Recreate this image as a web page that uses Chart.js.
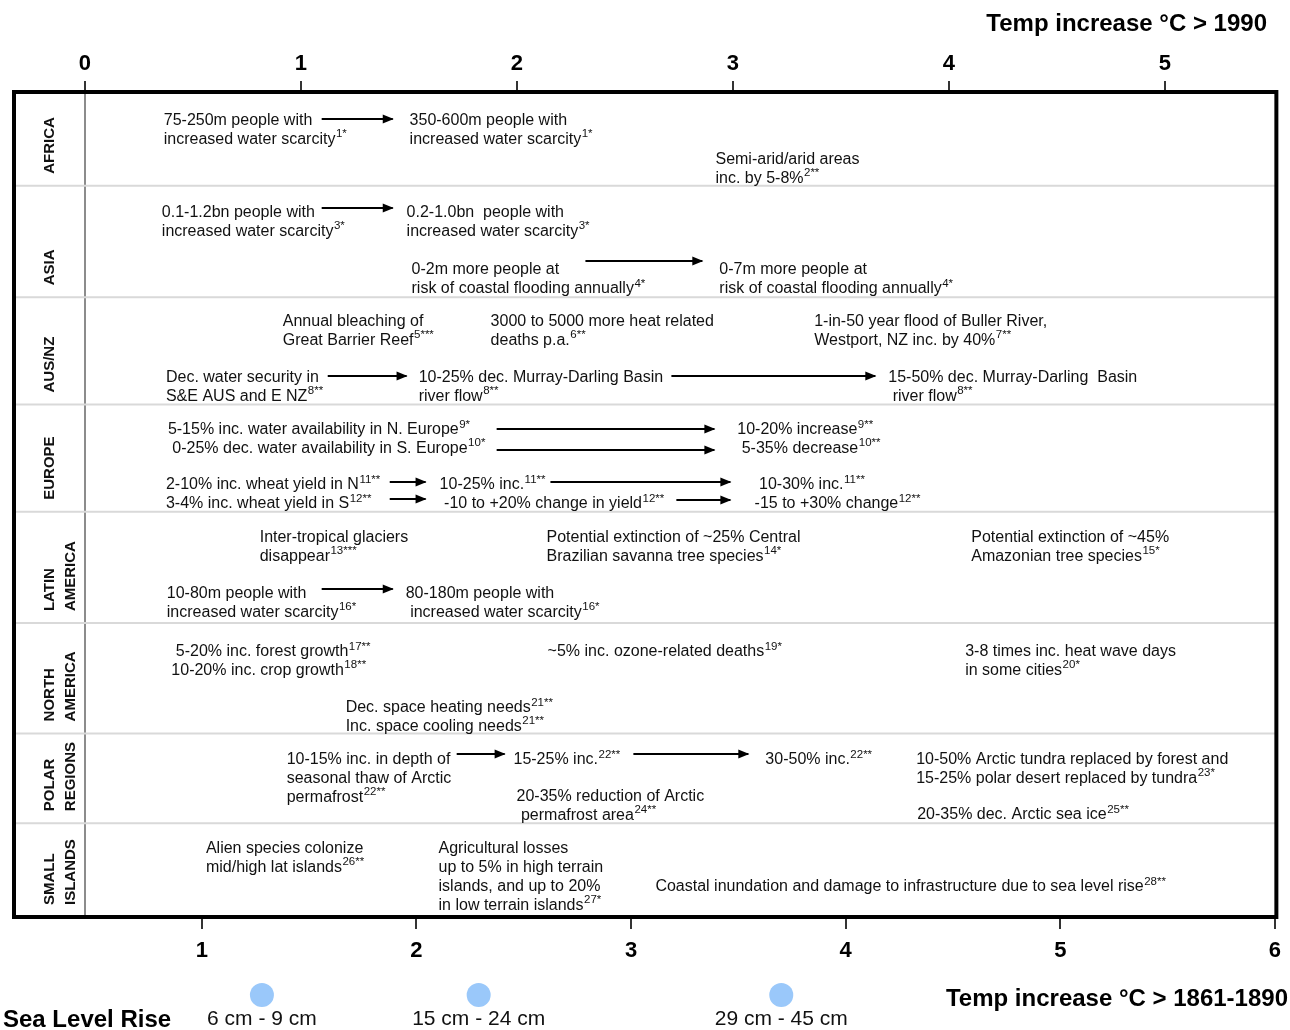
<!DOCTYPE html>
<html>
<head>
<meta charset="utf-8">
<script src="https://cdn.jsdelivr.net/npm/chart.js@4.4.1/dist/chart.umd.min.js"></script>
<style>
  html, body { margin: 0; padding: 0; background: #fff; }
  #wrap { width: 1290px; height: 1030px; position: relative; }
</style>
</head>
<body>
<div id="wrap"><canvas id="impacts"></canvas></div>
<script>
const topTicks = [0, 1, 2, 3, 4, 5]
const bottomTicks = [1, 2, 3, 4, 5, 6]
const regions = [['AFRICA'], ['ASIA'], ['AUS/NZ'], ['EUROPE'], ['LATIN', 'AMERICA'], ['NORTH', 'AMERICA'], ['POLAR', 'REGIONS'], ['SMALL', 'ISLANDS']]
const regionEdges = [0, 0.91, 1.99, 3.03, 4.07, 5.15, 6.22, 7.09, 8]

const seaLevelTemps = [1.28, 2.29, 3.70]
const seaLevelRise = ['6 cm - 9 cm', '15 cm - 24 cm', '29 cm - 45 cm']

// [temp °C > 1990, row position, lines]  text after ^ is the footnote mark
const africa = [
  [0.365, 0.262, ['75-250m people with', 'increased water scarcity^1*']],
  [1.503, 0.262, ['350-600m people with', 'increased water scarcity^1*']],
  [2.919, 0.640, ['Semi-arid/arid areas', 'inc. by 5-8%^2**']]
]
const asia = [
  [0.356, 1.154, ['0.1-1.2bn people with', 'increased water scarcity^3*']],
  [1.489, 1.154, ['0.2-1.0bn  people with', 'increased water scarcity^3*']],
  [1.512, 1.707, ['0-2m more people at', 'risk of coastal flooding annually^4*']],
  [2.937, 1.707, ['0-7m more people at', 'risk of coastal flooding annually^4*']]
]
const ausNz = [
  [0.916, 2.211, ['Annual bleaching of', 'Great Barrier Reef^5***']],
  [1.878, 2.211, ['3000 to 5000 more heat related', 'deaths p.a.^6**']],
  [3.376, 2.211, ['1-in-50 year flood of Buller River,', 'Westport, NZ inc. by 40%^7**']],
  [0.375, 2.754, ['Dec. water security in', 'S&E AUS and E NZ^8**']],
  [1.545, 2.754, ['10-25% dec. Murray-Darling Basin', 'river flow^8**']],
  [3.719, 2.754, ['15-50% dec. Murray-Darling  Basin', ' river flow^8**']]
]
const europe = [
  [0.384, 3.258, ['5-15% inc. water availability in N. Europe^9*', ' 0-25% dec. water availability in S. Europe^10*']],
  [3.020, 3.258, ['10-20% increase^9**', ' 5-35% decrease^10**']],
  [0.375, 3.792, ['2-10% inc. wheat yield in N^11**', '3-4% inc. wheat yield in S^12**']],
  [1.642, 3.792, ['10-25% inc.^11**', ' -10 to +20% change in yield^12**']],
  [3.100, 3.792, [' 10-30% inc.^11**', '-15 to +30% change^12**']]
]
const latinAmerica = [
  [0.809, 4.305, ['Inter-tropical glaciers', 'disappear^13***']],
  [2.137, 4.305, ['Potential extinction of ~25% Central', 'Brazilian savanna tree species^14*']],
  [4.103, 4.305, ['Potential extinction of ~45%', 'Amazonian tree species^15*']],
  [0.379, 4.848, ['10-80m people with', 'increased water scarcity^16*']],
  [1.485, 4.848, ['80-180m people with', ' increased water scarcity^16*']]
]
const northAmerica = [
  [0.400, 5.411, [' 5-20% inc. forest growth^17**', '10-20% inc. crop growth^18**']],
  [2.142, 5.411, ['~5% inc. ozone-related deaths^19*']],
  [4.075, 5.411, ['3-8 times inc. heat wave days', 'in some cities^20*']],
  [1.207, 5.954, ['Dec. space heating needs^21**', 'Inc. space cooling needs^21**']]
]
const polar = [
  [0.934, 6.458, ['10-15% inc. in depth of', 'seasonal thaw of Arctic', 'permafrost^22**']],
  [1.984, 6.458, ['15-25% inc.^22**']],
  [3.150, 6.458, ['30-50% inc.^22**']],
  [3.848, 6.458, ['10-50% Arctic tundra replaced by forest and', '15-25% polar desert replaced by tundra^23*']],
  [1.998, 6.817, ['20-35% reduction of Arctic', ' permafrost area^24**']],
  [3.853, 6.992, ['20-35% dec. Arctic sea ice^25**']]
]
const smallIslands = [
  [0.560, 7.321, ['Alien species colonize', 'mid/high lat islands^26**']],
  [1.637, 7.321, ['Agricultural losses', 'up to 5% in high terrain', 'islands, and up to 20%', 'in low terrain islands^27*']],
  [2.641, 7.690, ['Coastal inundation and damage to infrastructure due to sea level rise^28**']]
]

// [from °C, to °C, row position]
const arrows = [
  [1.096, 1.425, 0.262],
  [1.096, 1.425, 1.125],
  [2.317, 2.858, 1.639],
  [1.124, 1.489, 2.754],
  [2.715, 3.659, 2.754],
  [1.906, 2.914, 3.268],
  [1.906, 2.914, 3.472],
  [1.411, 1.577, 3.782],
  [1.411, 1.577, 3.947],
  [2.155, 2.988, 3.782],
  [2.738, 2.988, 3.957],
  [1.096, 1.425, 4.819],
  [1.721, 1.943, 6.419],
  [2.539, 3.071, 6.419]
]

const notes = [].concat(africa, asia, ausNz, europe, latinAmerica, northAmerica, polar, smallIslands)
const FONT = '"Liberation Sans", Arial, sans-serif'
Chart.defaults.font.family = FONT

function drawRich(ctx, str, x, y) {
  let [main, sup] = str.split('^')
  ctx.font = '16px ' + FONT
  ctx.fillText(main, x, y)
  if (sup) {
    let w = ctx.measureText(main).width
    ctx.font = '11.5px ' + FONT
    ctx.fillText(sup, x + w + 0.5, y - 5.5)
  }
}

const infographic = {
  id: 'infographic',
  beforeDatasetsDraw(chart) {
    const { ctx, chartArea: a, scales } = chart
    ctx.save()
    ctx.strokeStyle = '#d9d9d9'
    ctx.lineWidth = 2
    regionEdges.slice(1, -1).forEach(v => {
      let py = scales.y.getPixelForValue(v)
      ctx.beginPath(); ctx.moveTo(a.left, py); ctx.lineTo(a.right, py); ctx.stroke()
    })
    ctx.restore()
  },
  afterDatasetsDraw(chart) {
    const { ctx, chartArea: a, scales } = chart
    ctx.save()
    // arrow heads
    ctx.fillStyle = '#000'
    chart.data.datasets.forEach((ds, i) => {
      let pts = chart.getDatasetMeta(i).data
      let p = pts[pts.length - 1]
      ctx.beginPath()
      ctx.moveTo(p.x + 1, p.y)
      ctx.lineTo(p.x - 10, p.y - 4.5)
      ctx.lineTo(p.x - 10, p.y + 4.5)
      ctx.closePath()
      ctx.fill()
    })

    // annotations
    ctx.fillStyle = '#111'
    ctx.textAlign = 'left'
    ctx.textBaseline = 'middle'
    notes.forEach(([t, r, lines]) => {
      let px = scales.x2.getPixelForValue(t)
      let py = scales.y.getPixelForValue(r) + 2
      lines.forEach((ln, k) => drawRich(ctx, ln, px, py + k * 18.8))
    })

    // region labels
    ctx.font = 'bold 15px ' + FONT
    regions.forEach((lines, i) => {
      let bottom = scales.y.getPixelForValue(regionEdges[i + 1])
      ctx.save()
      ctx.translate(a.left + 36, bottom - 12)
      ctx.rotate(-Math.PI / 2)
      lines.forEach((ln, k) => ctx.fillText(ln, 0, k * 21))
      ctx.restore()
    })
    ctx.restore()
  },
  afterDraw(chart) {
    const { ctx, chartArea: a, scales } = chart
    ctx.save()
    ctx.strokeStyle = '#000'
    ctx.lineWidth = 4
    ctx.strokeRect(a.left, a.top, a.right - a.left, a.bottom - a.top)

    ctx.fillStyle = '#000'
    ctx.textBaseline = 'middle'
    ctx.font = 'bold 24px ' + FONT
    ctx.textAlign = 'right'
    ctx.fillText('Temp increase °C > 1990', 1267, 24)
    ctx.fillText('Temp increase °C > 1861-1890', 1288, 999)
    ctx.textAlign = 'left'
    ctx.fillText('Sea Level Rise', 3, 1020)

    // sea level rise markers on the 1861-1890 scale
    ctx.font = '21px ' + FONT
    ctx.textAlign = 'center'
    seaLevelTemps.forEach((t, i) => {
      let px = scales.x.getPixelForValue(t)
      ctx.fillStyle = '#9ac8fa'
      ctx.beginPath(); ctx.arc(px, 995, 12, 0, Math.PI * 2); ctx.fill()
      ctx.fillStyle = '#111'
      ctx.fillText(seaLevelRise[i], px, 1019)
    })
    ctx.restore()
  }
}

const tickFont = { family: FONT, size: 22, weight: 'bold' }

new Chart(document.getElementById('impacts'), {
  type: 'scatter',
  data: {
    datasets: arrows.map(([from, to, r]) => ({
      data: [{ x: from, y: r }, { x: to, y: r }],
      xAxisID: 'x2',
      showLine: true,
      borderColor: '#000',
      borderWidth: 2,
      pointRadius: 0,
      clip: false
    }))
  },
  options: {
    responsive: true,
    maintainAspectRatio: false,
    animation: false,
    devicePixelRatio: 1,
    layout: { padding: { left: 14, right: 12.5, top: 0, bottom: 0 } },
    plugins: { legend: { display: false }, tooltip: { enabled: false } },
    scales: {
      x2: {
        type: 'linear',
        position: 'top',
        min: -0.3284,
        max: 5.5157,
        afterBuildTicks: s => { s.ticks = topTicks.map(v => ({ value: v })) },
        afterFit: s => { s.height = 92 },
        grid: {
          drawOnChartArea: true,
          color: c => (c.tick && c.tick.value === 0 ? '#8c8c8c' : 'rgba(0,0,0,0)'),
          tickColor: '#333',
          tickLength: 11,
          lineWidth: 2
        },
        border: { display: false },
        ticks: { font: tickFont, color: '#000', padding: 4, maxRotation: 0, callback: v => String(v) }
      },
      x: {
        type: 'linear',
        position: 'bottom',
        min: 0.1248,
        max: 6.007,
        afterBuildTicks: s => { s.ticks = bottomTicks.map(v => ({ value: v })) },
        afterFit: s => { s.height = 113 },
        grid: { drawOnChartArea: false, tickColor: '#333', tickLength: 12, lineWidth: 2 },
        border: { display: false },
        ticks: { font: tickFont, color: '#000', padding: 9, maxRotation: 0, callback: v => String(v) }
      },
      y: {
        type: 'linear',
        min: 0,
        max: 8,
        reverse: true,
        display: false
      }
    }
  },
  plugins: [infographic]
})
</script>
</body>
</html>
